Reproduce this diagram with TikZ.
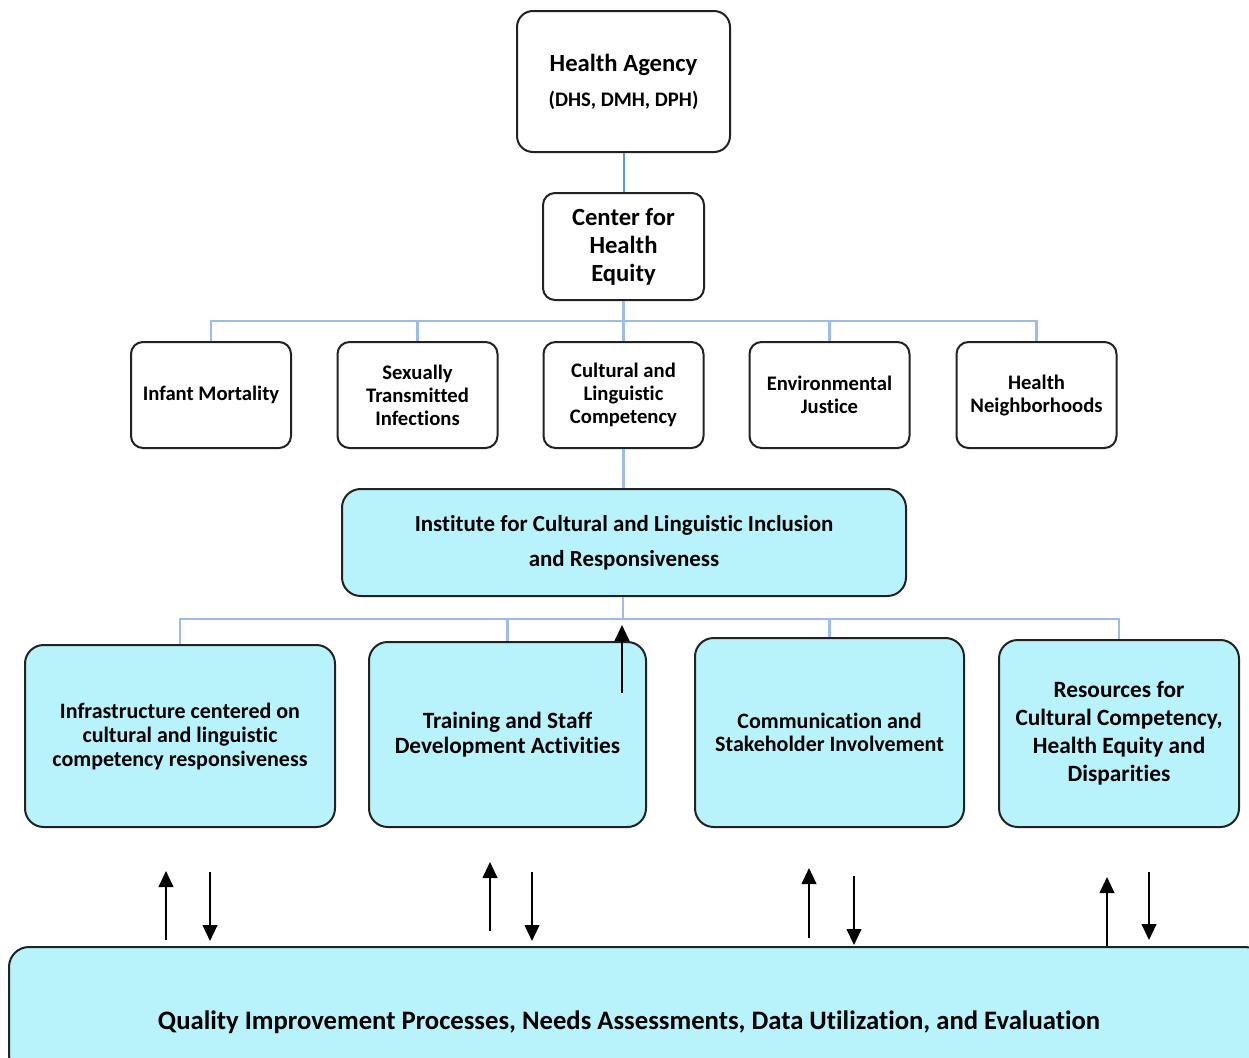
\documentclass[tikz,border=0pt]{standalone}
\usepackage{fontspec}
\setmainfont{Carlito}[Ligatures=NoCommon]
\usetikzlibrary{arrows.meta}
\definecolor{cyanfill}{HTML}{B8F3FC}
\definecolor{topblue}{HTML}{5B9BD5}
\definecolor{busblue}{HTML}{9DBCEB}
\definecolor{edge}{HTML}{222222}
\tikzset{
  box/.style={draw=edge, line width=1.5pt, rounded corners=9pt, align=center, font=\bfseries, inner sep=2pt},
  cbox/.style={box, fill=cyanfill, rounded corners=14pt},
  topline/.style={draw=topblue, line width=1.5pt},
  busline/.style={draw=busblue, line width=2pt},
  arr/.style={draw=black, line width=1.5pt, -{Triangle[width=11pt,length=12pt]}},
}
\begin{document}
\begin{tikzpicture}[x=0.75pt,y=-0.75pt]
\clip (0,0) rectangle (1249,1057);
\fill[white] (0,0) rectangle (1249,1057);

% top
\node[box, minimum width=159.75pt, minimum height=105.75pt, rounded corners=12pt,
  font=\bfseries\fontsize{15.5}{26.25}\selectfont] (ha) at (623.5,81.5)
  {{\fontsize{18.5}{26.25}\selectfont Health Agency}\\(DHS, DMH, DPH)};
\node[box, minimum width=120.75pt, minimum height=80.25pt, font=\bfseries\fontsize{18.5}{21}\selectfont] (che) at (623.5,246.5)
  {Center for\\Health\\Equity};

% program row
\tikzset{prog/.style={box, minimum width=120pt, minimum height=79.5pt, font=\bfseries\fontsize{15.5}{17.25}\selectfont}}
\node[prog] (im) at (211,395) {Infant Mortality};
\node[prog] (sti) at (417.5,395) {Sexually\\Transmitted\\Infections};
\node[prog] (clc) at (623.5,395) {Cultural and\\Linguistic\\Competency};
\node[prog] (ej) at (829.5,395) {Environmental\\Justice};
\node[prog] (hn) at (1036.5,395) {Health\\Neighborhoods};

% institute
\node[cbox, minimum width=423pt, minimum height=80.25pt, font=\bfseries\fontsize{17.2}{26.25}\selectfont] (inst) at (624,542.5)
  {Institute for Cultural and Linguistic Inclusion\\and Responsiveness};

% bottom row
\node[cbox, minimum width=232.5pt, minimum height=136.5pt, font=\bfseries\fontsize{16.5}{18}\selectfont] (infra) at (180,736)
  {Infrastructure centered on\\cultural and linguistic\\competency responsiveness};
\node[cbox, minimum width=207.75pt, minimum height=138.75pt, font=\bfseries\fontsize{17.5}{18.75}\selectfont] (train) at (507.5,734.5)
  {Training and Staff\\Development Activities};
\node[cbox, minimum width=201.75pt, minimum height=141.75pt, font=\bfseries\fontsize{16.5}{17.5}\selectfont] (comm) at (829.5,732.5)
  {Communication and\\Stakeholder Involvement};
\node[cbox, minimum width=180pt, minimum height=140.25pt, font=\bfseries\fontsize{17.5}{21}\selectfont] (res) at (1119,733.5)
  {Resources for\\Cultural Competency,\\Health Equity and\\Disparities};

% quality box
\node[cbox, minimum width=942pt, minimum height=96pt, rounded corners=15pt] (qi) at (637,1011) {};
\node[font=\bfseries\fontsize{20}{24}\selectfont, inner sep=0pt] (qitext) at (629,1022)
  {Quality Improvement Processes, Needs Assessments, Data Utilization, and Evaluation};

% connectors top
\draw[topline] (ha.south) -- (che.north);
\coordinate (bus1) at (623.5,321);
\draw[busline] (che.south) -- (clc.north);
\draw[busline] (bus1) -| (im.north);
\draw[busline] (bus1) -| (sti.north);
\draw[busline] (bus1) -| (ej.north);
\draw[busline] (bus1) -| (hn.north);
\draw[busline] (clc.south) -- (clc.south |- inst.north);

\coordinate (bus2) at (623,619);
\draw[busline] (inst.south -| bus2) -- (bus2);
\draw[busline] (bus2) -| (infra.north);
\draw[busline] (bus2) -| (train.north);
\draw[busline] (bus2) -| (comm.north);
\draw[busline] (bus2) -| (res.north);

% arrow inside training box
\coordinate (ta1) at (622,693);
\coordinate (ta2) at (622,625);
\draw[arr] (ta1) -- (ta2);

% bottom arrows
\coordinate (u1a) at (166,940); \coordinate (u1b) at (166,871);
\coordinate (d1a) at (210,872); \coordinate (d1b) at (210,941);
\coordinate (u2a) at (490,931); \coordinate (u2b) at (490,862);
\coordinate (d2a) at (532,872); \coordinate (d2b) at (532,941);
\coordinate (u3a) at (809,938); \coordinate (u3b) at (809,868);
\coordinate (d3a) at (854,876); \coordinate (d3b) at (854,945);
\coordinate (u4a) at (1107,946); \coordinate (u4b) at (1107,877);
\coordinate (d4a) at (1149,872); \coordinate (d4b) at (1149,940);
\foreach \p in {u1,d1,u2,d2,u3,d3,u4,d4} {\draw[arr] (\p a) -- (\p b);}
\end{tikzpicture}
\end{document}
